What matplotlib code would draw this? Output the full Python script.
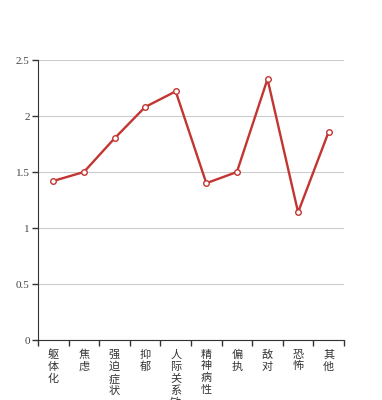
import matplotlib
matplotlib.use("Agg")
import matplotlib.pyplot as plt
import numpy as np

categories = ["躯体化", "焦虑", "强迫症状", "抑郁", "人际关系敏感", "精神病性", "偏执", "敌对", "恐怖", "其他"]
values = [1.42, 1.50, 1.80, 2.08, 2.22, 1.40, 1.50, 2.33, 1.14, 1.86]
yticks = [0, 0.5, 1, 1.5, 2, 2.5]
ytick_labels = ["0", "0.5", "1", "1.5", "2", "2.5"]

plt.rcParams['font.family'] = ['Noto Sans CJK SC', 'DejaVu Sans']

fig = plt.figure(figsize=(3.82, 4.0), dpi=100)
ax = fig.add_axes([38/382, 60/400, 306/382, 280/400])

x = np.arange(len(categories))
ax.plot(x, values, color='#c23531', linewidth=1.7, marker='o', markersize=4,
        markerfacecolor='white', markeredgecolor='#c23531', markeredgewidth=1, zorder=3, clip_on=False)

ax.set_xlim(-0.5, len(categories) - 0.5)
ax.set_ylim(0, 2.5)
ax.set_yticks(yticks)
ax.set_yticklabels(ytick_labels, fontsize=8, color='#444444', family=['Liberation Serif'])
ax.yaxis.grid(True, color='#cccccc', linewidth=0.8)
ax.set_axisbelow(True)

# category boundary ticks
ax.set_xticks(np.arange(len(categories) + 1) - 0.5)
ax.set_xticklabels([])
ax.set_xticks(x, minor=True)
ax.set_xticklabels(["\n".join(c) for c in categories], minor=True, fontsize=8,
                   color='#333333', va='top', linespacing=1.2)
ax.tick_params(axis='x', which='minor', length=0, pad=7)
ax.tick_params(axis='x', which='major', length=4, color='#333333', width=1)
ax.tick_params(axis='y', length=4, color='#333333', width=1, pad=2)

for s in ['top', 'right']:
    ax.spines[s].set_visible(False)
ax.spines['left'].set_color('#333333')
ax.spines['bottom'].set_color('#333333')

fig.savefig('out.png', dpi=100)
